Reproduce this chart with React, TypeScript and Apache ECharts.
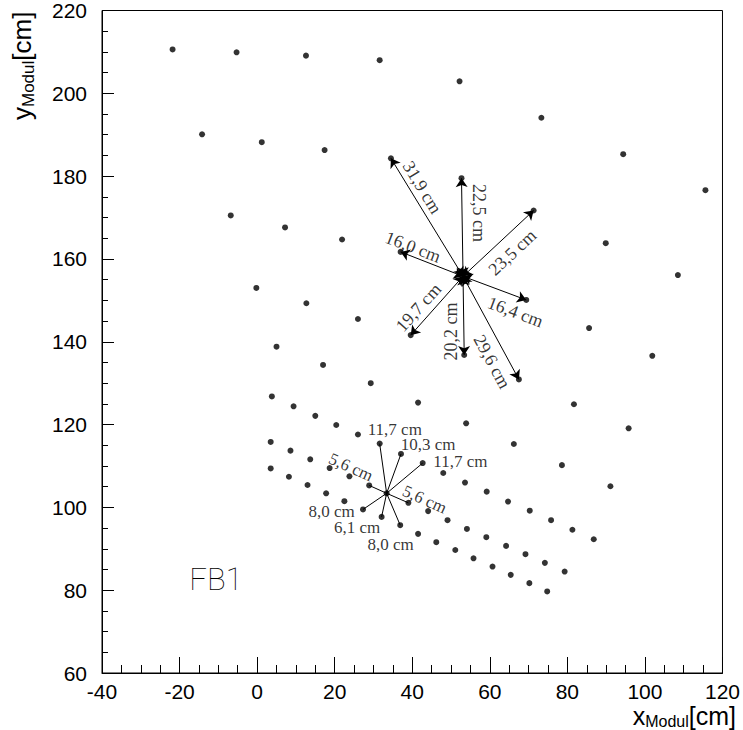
import React, { useEffect, useRef } from "react";
import * as echarts from "echarts";

// Module positions (x, y) in cm, read row by row
const moduleRow1 = [[-21.8, 210.6], [-5.3, 209.9], [12.6, 209.1], [31.6, 208.0], [52.2, 202.9], [73.3, 194.1], [94.4, 185.3], [115.6, 176.6]];
const moduleRow2 = [[-14.2, 190.1], [1.2, 188.2], [17.4, 186.3], [34.5, 184.3], [52.7, 179.5], [71.3, 171.7], [89.9, 163.8], [108.5, 156.1]];
const moduleRow3 = [[-6.8, 170.5], [7.2, 167.6], [21.9, 164.7], [37.0, 161.7], [53.1, 155.8], [69.4, 150.1], [85.6, 143.3], [101.9, 136.6]];
const moduleRow4 = [[-0.2, 153.0], [12.7, 149.3], [26.0, 145.5], [39.6, 141.6], [53.4, 136.8], [67.5, 130.9], [81.7, 124.9], [95.8, 119.1]];
const moduleRow5 = [[5.0, 138.8], [17.0, 134.4], [29.3, 130.0], [41.5, 125.3], [53.9, 120.3], [66.2, 115.3], [78.6, 110.2], [91.1, 105.1]];
const moduleRow6 = [[3.8, 126.8], [9.4, 124.4], [15.0, 122.1], [20.4, 119.9], [26.0, 117.6], [31.6, 115.4], [37.1, 112.9], [42.7, 110.7], [48.0, 108.3], [53.6, 106.0], [59.2, 103.8], [64.7, 101.4], [70.3, 99.2], [75.8, 96.9], [81.3, 94.6], [86.8, 92.3]];
const moduleRow7 = [[3.5, 115.8], [8.6, 113.7], [13.7, 111.6], [18.7, 109.5], [23.8, 107.5], [28.9, 105.3], [33.4, 103.4], [39.0, 101.1], [44.1, 99.1], [49.1, 96.9], [54.1, 94.8], [59.1, 92.8], [64.2, 90.7], [69.2, 88.7], [74.2, 86.6], [79.3, 84.5]];
const moduleRow8 = [[3.5, 109.4], [8.2, 107.4], [13.0, 105.4], [17.8, 103.4], [22.5, 101.5], [27.3, 99.5], [32.1, 97.7], [36.9, 95.7], [41.5, 93.6], [46.2, 91.6], [51.1, 89.7], [55.8, 87.7], [60.7, 85.7], [65.4, 83.7], [70.2, 81.7], [74.8, 79.7]];

// Upper star: distances from centre module (double arrows)
const upperCenter = [53.1, 155.8];
const upperEnds = [[34.5, 184.3], [52.7, 179.5], [71.3, 171.7], [37.0, 161.7], [69.4, 150.1], [39.6, 141.6], [53.4, 136.8], [67.5, 130.9]];
const upperLabels = ["31,9 cm", "22,5 cm", "23,5 cm", "16,0 cm", "16,4 cm", "19,7 cm", "20,2 cm", "29,6 cm"];
const upperLabelPos = [[42.6, 177.3], [57.2, 171.1], [65.8, 161.6], [40.2, 162.9], [66.6, 147.2], [41.6, 148.3], [49.9, 142.5], [60.6, 135.2]];
const upperLabelRot = [-58.5, -90, 43, -21, -20.5, 48, 90, -61.5];

// Lower star: distances from centre module (plain lines)
const lowerCenter = [33.4, 103.4];
const lowerEnds = [[31.6, 115.4], [37.1, 112.9], [42.7, 110.7], [28.9, 105.3], [39.0, 101.1], [27.3, 99.5], [32.1, 97.7], [36.9, 95.7]];
const lowerLabels = ["11,7 cm", "10,3 cm", "11,7 cm", "5,6 cm", "5,6 cm", "8,0 cm", "6,1 cm", "8,0 cm"];
const lowerLabelPos = [[35.5, 118.9], [44.1, 115.3], [52.4, 111.1], [24.2, 109.7], [43.2, 101.9], [19.2, 99.1], [25.8, 95.1], [34.4, 91.1]];
const lowerLabelRot = [0, 0, 0, -24, -24, 0, 0, 0];

const xTicks = { min: -40, max: 120, interval: 20 };
const yTicks = { min: 60, max: 220, interval: 20 };

export default function App() {
  const ref = useRef<HTMLDivElement>(null);

  useEffect(() => {
    if (!ref.current) return;
    const chart = echarts.init(ref.current, null, { renderer: "svg" });

    const modules = [
      ...moduleRow1, ...moduleRow2, ...moduleRow3, ...moduleRow4,
      ...moduleRow5, ...moduleRow6, ...moduleRow7, ...moduleRow8,
    ];

    const upperFont = { fontFamily: "Liberation Serif", fontSize: 18, color: "#000" };
    const lowerFont = { fontFamily: "Liberation Serif", fontSize: 17, color: "#000" };
    const tickFont = { fontFamily: "Liberation Sans", fontSize: 21, color: "#000" };

    const mkLabels = (pos: number[][], txt: string[], rot: number[], font: any) =>
      pos.map((p, i) => ({ value: p, name: txt[i], label: { rotate: rot[i], ...font } }));

    chart.setOption({
      animation: false,
      backgroundColor: "#fff",
      grid: {
        left: 102, right: 20, top: 9, bottom: 57,
        show: true, borderColor: "#000", borderWidth: 1,
      },
      xAxis: {
        type: "value",
        min: xTicks.min, max: xTicks.max, interval: xTicks.interval,
        axisLine: { show: true, onZero: false, lineStyle: { color: "#000", width: 1 } },
        axisTick: { show: true, inside: true, length: 16, lineStyle: { color: "#000", width: 1 } },
        minorTick: { show: true, splitNumber: 4, length: 8, lineStyle: { color: "#000", width: 1 } },
        splitLine: { show: false },
        axisLabel: { ...tickFont, margin: 8 },
      },
      yAxis: {
        type: "value",
        min: yTicks.min, max: yTicks.max, interval: yTicks.interval,
        axisLine: { show: true, onZero: false, lineStyle: { color: "#000", width: 1 } },
        axisTick: { show: true, inside: true, length: 12, lineStyle: { color: "#000", width: 1 } },
        minorTick: { show: true, splitNumber: 4, length: 6, lineStyle: { color: "#000", width: 1 } },
        splitLine: { show: false },
        axisLabel: { ...tickFont, margin: 15 },
      },
      series: [
        {
          type: "lines",
          coordinateSystem: "cartesian2d",
          silent: true,
          symbol: ["arrow", "arrow"],
          symbolSize: 9,
          lineStyle: { color: "#000", width: 1, opacity: 1 },
          data: upperEnds.map((e) => ({ coords: [upperCenter, e] })),
        },
        {
          type: "lines",
          coordinateSystem: "cartesian2d",
          silent: true,
          symbol: ["none", "none"],
          lineStyle: { color: "#000", width: 1, opacity: 1 },
          data: lowerEnds.map((e) => ({ coords: [lowerCenter, e] })),
        },
        {
          type: "scatter",
          silent: true,
          symbol: "circle",
          symbolSize: 6,
          itemStyle: { color: "#000" },
          data: modules,
          z: 5,
        },
        {
          type: "scatter",
          silent: true,
          symbolSize: 1,
          itemStyle: { color: "rgba(0,0,0,0)" },
          label: { show: true, position: "inside", formatter: "{b}", ...upperFont },
          data: [
            ...mkLabels(upperLabelPos, upperLabels, upperLabelRot, upperFont),
            ...mkLabels(lowerLabelPos, lowerLabels, lowerLabelRot, lowerFont),
          ],
          z: 6,
        },
      ],
      graphic: [
        {
          type: "text",
          x: 736, y: 703,
          style: {
            text: "{a|x}{b|Modul}{a|[cm]}",
            align: "right",
            verticalAlign: "top",
            rich: {
              a: { fontFamily: "Liberation Sans", fontSize: 25, lineHeight: 25, verticalAlign: "top", fill: "#000" },
              b: { fontFamily: "Liberation Sans", fontSize: 16, lineHeight: 16, padding: [10, 0, 0, 0], verticalAlign: "top", fill: "#000" },
            },
          },
        },
        {
          type: "text",
          x: 9, y: 120,
          rotation: Math.PI / 2,
          style: {
            text: "{a|y}{b|Modul}{a|[cm]}",
            align: "left",
            verticalAlign: "top",
            rich: {
              a: { fontFamily: "Liberation Sans", fontSize: 26, lineHeight: 26, verticalAlign: "top", fill: "#000" },
              b: { fontFamily: "Liberation Sans", fontSize: 17, lineHeight: 17, padding: [11, 0, 0, 0], verticalAlign: "top", fill: "#000" },
            },
          },
        },
        {
          type: "text",
          x: 216, y: 579,
          style: {
            text: "FB1",
            align: "center",
            verticalAlign: "middle",
            fontFamily: "Roboto, Lato, 'Open Sans', sans-serif",
            fontWeight: 100,
            fontSize: 31,
            fill: "#000",
          },
        },
      ],
    });

    return () => chart.dispose();
  }, []);

  return (
    <div
      ref={ref}
      style={{ position: "fixed", left: 0, top: 0, width: 743, height: 730, background: "#fff" }}
    />
  );
}
